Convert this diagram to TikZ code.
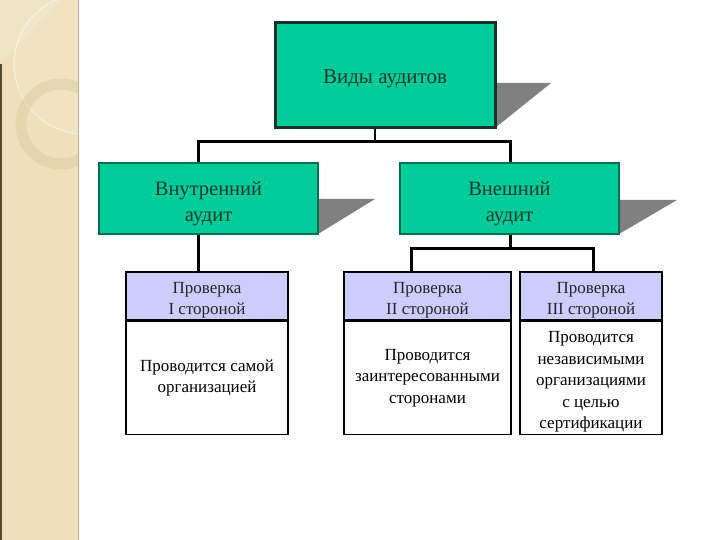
\documentclass[tikz,border=0pt]{standalone}
\usepackage{fontspec}
\setmainfont{Liberation Serif}
\usetikzlibrary{positioning}

\definecolor{stripbeige}{RGB}{237,224,186}
\definecolor{stripring}{RGB}{218,206,166}
\definecolor{stripedge}{RGB}{92,72,48}
\definecolor{stripline}{RGB}{205,170,150}
\definecolor{auditteal}{RGB}{0,204,153}
\definecolor{topframe}{RGB}{18,52,40}
\definecolor{midframe}{RGB}{0,110,80}
\definecolor{shadegray}{RGB}{128,128,128}
\definecolor{headlav}{RGB}{204,204,255}
\definecolor{tealtext}{RGB}{30,58,48}

% подъём первой строки (текст в блоках чуть ниже центра)
\newcommand{\liftline}{\rule{0pt}{1.15em}}

\begin{document}
\begin{tikzpicture}[x=1pt,y=-1pt,
    topbox/.style={draw=topframe,line width=3pt,fill=auditteal,
      minimum width=220pt,minimum height=105pt,text=tealtext,
      font=\fontsize{21}{26}\selectfont},
    midbox/.style={draw=midframe,line width=1.5pt,fill=auditteal,
      minimum width=219pt,minimum height=71pt,align=center,text=tealtext,
      inner ysep=0pt,font=\fontsize{20.5}{26}\selectfont},
    headbox/.style={draw,line width=1.5pt,fill=headlav,minimum height=48pt,
      align=center,text=black!85,inner ysep=0pt,
      font=\fontsize{17}{21}\selectfont},
    bodybox/.style={draw,line width=1.5pt,fill=white,minimum height=113pt,
      align=center,inner xsep=2pt,inner ysep=0pt,
      font=\fontsize{17}{21.5}\selectfont},
    conn/.style={line width=3pt},
    shade/.style={fill=shadegray}]

  % поле и рамка слайда
  \useasboundingbox (0,0) rectangle (720,540);
  \fill[stripbeige] (0,0) rectangle (78,540);
  \begin{scope}
    \clip (0,0) rectangle (78,540);
    \fill[white,opacity=0.15] (0,0) -- (60,0) -- (0,64) -- cycle;
    \fill[white,opacity=0.12] (84,64) circle (70pt);
    \draw[white,opacity=0.45,line width=1.2pt] (84,64) circle (70pt);
    \draw[stripring,opacity=0.5,line width=11pt] (61,124) circle (40pt);
  \end{scope}
  \draw[stripedge,line width=2pt] (1,64) -- (1,540);
  \draw[stripline,line width=1.2pt] (78.5,0) -- (78.5,540);

  % тени блоков
  \coordinate (sh0) at (495,128);
  \coordinate (sh1) at (318,234);
  \coordinate (sh2) at (619,234);
  \fill[shade] (sh0) -- ++(0,-45) -- ++(56,0) -- cycle;
  \fill[shade] (sh1) -- ++(0,-35) -- ++(57,0) -- cycle;
  \fill[shade] (sh2) -- ++(0,-34) -- ++(58,0) -- cycle;

  % блоки
  \node[topbox] (vidy) at (385,75.5) {\rule{0pt}{20pt}Виды аудитов};
  \node[midbox] (vnutr) at (208.5,198.5) {\liftline Внутренний\\аудит};
  \node[midbox] (vnesh) at (509.5,198.5) {\liftline Внешний\\аудит};

  \node[headbox,minimum width=162pt] (prov1) at (207,296)
    {\liftline Проверка\\I стороной};
  \node[headbox,minimum width=167pt] (prov2) at (427.5,296)
    {\liftline Проверка\\II стороной};
  \node[headbox,minimum width=142pt] (prov3) at (591,296)
    {\liftline Проверка\\III стороной};

  \node[bodybox,minimum width=162pt,below=0pt of prov1] (opis1)
    {Проводится самой\\организацией};
  \node[bodybox,minimum width=167pt,below=0pt of prov2] (opis2)
    {Проводится\\заинтересованными\\сторонами};
  \node[bodybox,minimum width=142pt,below=0pt of prov3] (opis3)
    {\liftline Проводится\\независимыми\\организациями\\с целью\\сертификации};

  % связи
  \coordinate (j0) at (375,142);
  \coordinate (jL) at (198,142);
  \coordinate (jR) at (510,142);
  \coordinate (k0) at (510,248);
  \coordinate (kL) at (411,248);
  \coordinate (kR) at (593,248);
  \draw[line width=2pt] (j0 |- vidy.south) -- (j0);
  \draw[conn] (jL |- vnutr.north) -- (jL) -- (jR) -- (jR |- vnesh.north);
  \draw[conn] (jL |- vnutr.south) -- (jL |- prov1.north);
  \draw[conn] (k0 |- vnesh.south) -- (k0);
  \draw[conn] (kL |- prov2.north) -- (kL) -- (kR) -- (kR |- prov3.north);
\end{tikzpicture}
\end{document}
